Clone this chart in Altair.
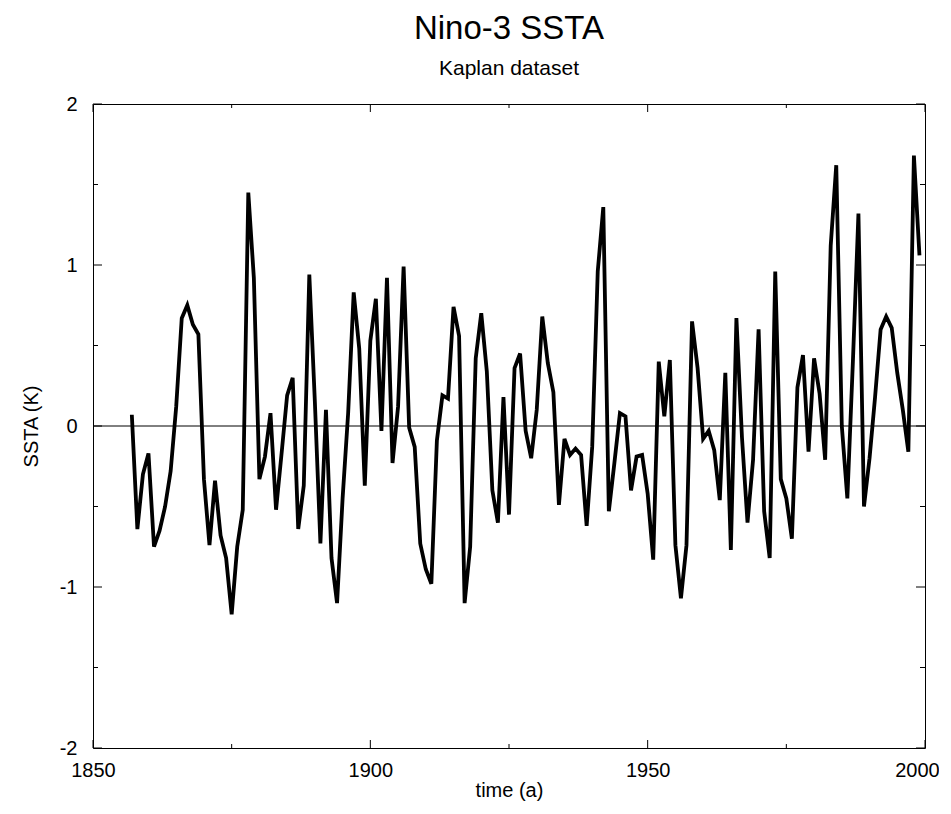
import altair as alt
import pandas as pd

years = list(range(1857, 2000))
ssta = [
    0.07, -0.64, -0.30, -0.17, -0.75, -0.65, -0.50, -0.28, 0.12, 0.67,
    0.75, 0.63, 0.57, -0.33, -0.74, -0.34, -0.68, -0.82, -1.17, -0.75,
    -0.52, 1.45, 0.92, -0.33, -0.19, 0.08, -0.52, -0.17, 0.19, 0.30,
    -0.64, -0.37, 0.94, 0.15, -0.73, 0.10, -0.82, -1.10, -0.45, 0.08,
    0.83, 0.48, -0.37, 0.53, 0.79, -0.03, 0.92, -0.23, 0.12, 0.99,
    -0.01, -0.13, -0.73, -0.89, -0.98, -0.09, 0.19, 0.17, 0.74, 0.56,
    -1.10, -0.75, 0.42, 0.70, 0.34, -0.40, -0.60, 0.18, -0.55, 0.36,
    0.45, -0.03, -0.20, 0.10, 0.68, 0.39, 0.21, -0.49, -0.08, -0.18,
    -0.14, -0.18, -0.62, -0.13, 0.96, 1.36, -0.53, -0.23, 0.08, 0.06,
    -0.40, -0.19, -0.18, -0.42, -0.83, 0.40, 0.06, 0.41, -0.74, -1.07,
    -0.74, 0.65, 0.36, -0.08, -0.03, -0.15, -0.46, 0.33, -0.77, 0.67,
    -0.07, -0.60, -0.21, 0.60, -0.53, -0.82, 0.96, -0.33, -0.45, -0.70,
    0.24, 0.44, -0.16, 0.42, 0.20, -0.21, 1.12, 1.62, 0.00, -0.45,
    0.40, 1.32, -0.50, -0.20, 0.18, 0.60, 0.68, 0.61, 0.33, 0.10,
    -0.16, 1.68, 1.06,
]

x_major = [1850, 1900, 1950, 2000]
x_minor = [1875, 1925, 1975]
y_major = [-2, -1, 0, 1, 2]
y_minor = [-1.5, -0.5, 0.5, 1.5]

W, H = 832, 644
FONT = "Liberation Sans"

df = pd.DataFrame({"year": years, "ssta": ssta})
xs = alt.Scale(domain=[1850, 2000], nice=False, zero=False)
ys = alt.Scale(domain=[-2, 2], nice=False, zero=False)

xaxis = alt.Axis(
    values=x_major, labelExpr="toString(datum.value)", title="time (a)",
    grid=False, ticks=False, domain=False, labelFontSize=20, titleFontSize=20,
    labelFont=FONT, titleFont=FONT, titleFontWeight="normal",
    labelColor="black", titleColor="black", labelPadding=12,
    labelOffset={"condition": {"test": "datum.value == 2000", "value": -8}, "value": 0},
    titlePadding=0, labelFlush=False)
yaxis = alt.Axis(
    values=y_major, labelExpr="toString(datum.value)", title="SSTA (K)",
    grid=False, ticks=False, domain=False, labelFontSize=20, titleFontSize=20,
    labelFont=FONT, titleFont=FONT, titleFontWeight="normal",
    labelColor="black", titleColor="black", labelPadding=16,
    titlePadding=18, labelFlush=False)

line = alt.Chart(df).mark_line(
    color="black", strokeWidth=3.8, strokeJoin="miter", strokeCap="butt"
).encode(
    x=alt.X("year:Q", scale=xs, axis=xaxis, title="time (a)"),
    y=alt.Y("ssta:Q", scale=ys, axis=yaxis, title="SSTA (K)"),
)

zero = alt.Chart(pd.DataFrame({"z": [0]})).mark_rule(color="black", strokeWidth=1).encode(
    y=alt.Y("z:Q", scale=ys, axis=yaxis, title="SSTA (K)")
)

def xticks(vals, length):
    d = pd.DataFrame({"t": vals})
    bottom = alt.Chart(d).mark_rule(color="black", strokeWidth=1).encode(
        x=alt.X("t:Q", scale=xs, axis=xaxis, title="time (a)"),
        y=alt.value(H), y2=alt.value(H - length))
    top = alt.Chart(d).mark_rule(color="black", strokeWidth=1).encode(
        x=alt.X("t:Q", scale=xs, axis=xaxis, title="time (a)"),
        y=alt.value(0), y2=alt.value(length))
    return [bottom, top]

def yticks(vals, length):
    d = pd.DataFrame({"t": vals})
    left = alt.Chart(d).mark_rule(color="black", strokeWidth=1).encode(
        y=alt.Y("t:Q", scale=ys, axis=yaxis, title="SSTA (K)"),
        x=alt.value(0), x2=alt.value(length))
    right = alt.Chart(d).mark_rule(color="black", strokeWidth=1).encode(
        y=alt.Y("t:Q", scale=ys, axis=yaxis, title="SSTA (K)"),
        x=alt.value(W), x2=alt.value(W - length))
    return [left, right]

layers = [line, zero] + xticks(x_major, 8) + xticks(x_minor, 4) + yticks(y_major, 9) + yticks(y_minor, 5)

chart = alt.layer(*layers).properties(
    width=W, height=H,
    title=alt.TitleParams(
        text="Nino-3 SSTA", subtitle="Kaplan dataset", fontSize=33,
        subtitleFontSize=21, font=FONT, subtitleFont=FONT, fontWeight="normal",
        color="black", subtitleColor="black", anchor="middle", offset=15,
        subtitlePadding=12, frame="group"),
    autosize=alt.AutoSizeParams(type="none"),
    padding={"left": 85, "top": 96, "right": 14, "bottom": 56},
).configure(background="white").configure_view(stroke="black", strokeWidth=1)

chart.save("out.html", embed_options={"renderer": "svg", "actions": False})
